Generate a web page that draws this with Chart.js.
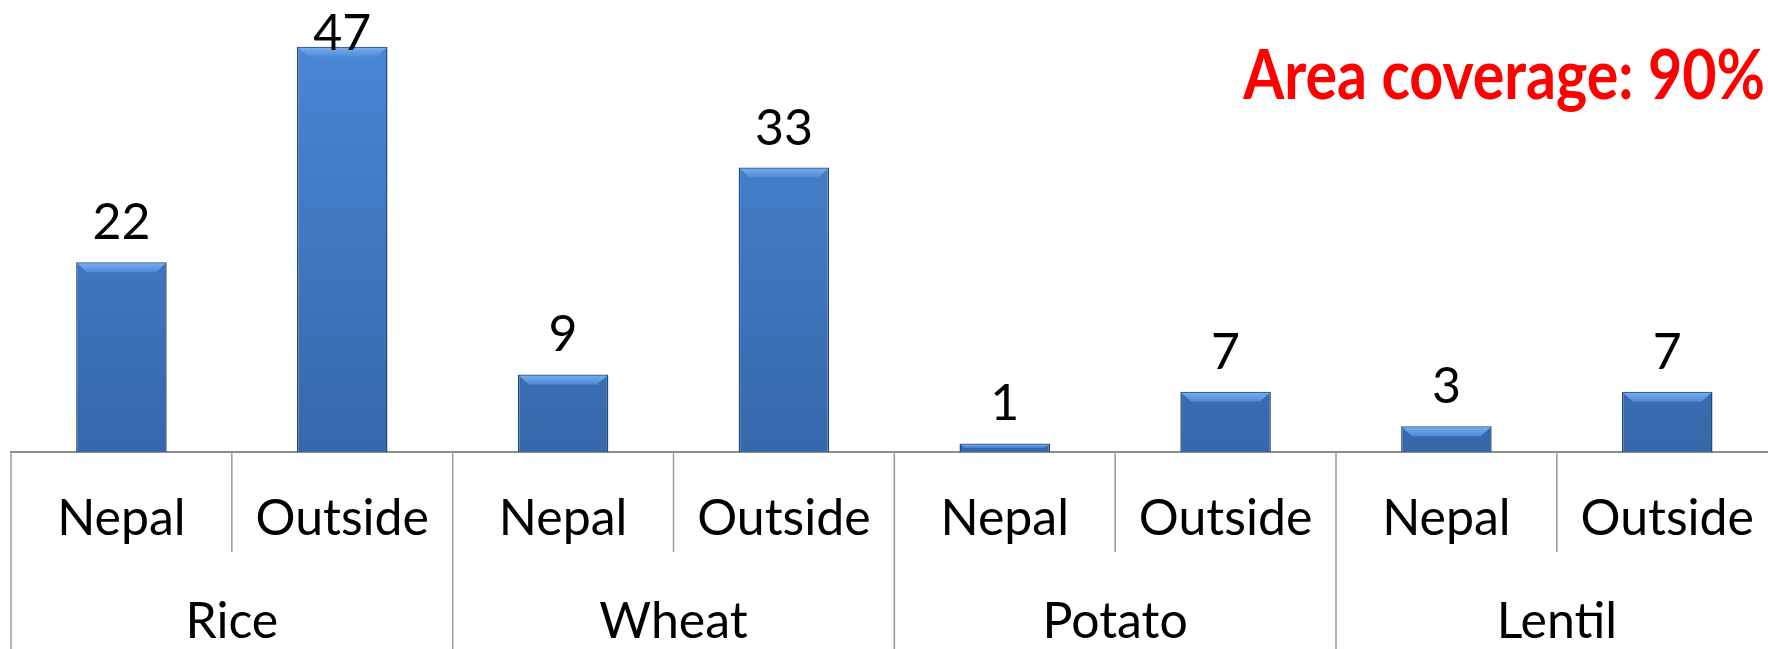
<!DOCTYPE html>
<html>
<head>
<meta charset="utf-8">
<script src="https://cdn.jsdelivr.net/npm/chart.js@4.4.0/dist/chart.umd.min.js"></script>
<style>
  html, body { margin: 0; padding: 0; background: #fff; overflow: hidden; }
  #wrap { width: 1791px; height: 649px; }
</style>
</head>
<body>
<div id="wrap"><canvas id="cropChart"></canvas></div>
<script>
// dados do gráfico
const crops = ['Rice', 'Wheat', 'Potato', 'Lentil'];
const origins = ['Nepal', 'Outside', 'Nepal', 'Outside', 'Nepal', 'Outside', 'Nepal', 'Outside'];
const counts = [22, 47, 9, 33, 1, 7, 3, 7];
const titleText = 'Area coverage: 90%';

const FONT = 'Lato, "Open Sans", sans-serif';

// linhas divisórias do eixo, rótulos de valor e título
const extrasPlugin = {
  id: 'extras',
  afterDatasetsDraw(chart) {
    const ctx = chart.ctx;
    const meta = chart.getDatasetMeta(0);
    meta.data.forEach((bar, i) => {
      const left = bar.x - bar.width / 2;
      const right = bar.x + bar.width / 2;
      const top = bar.y;
      const h = bar.base - bar.y;
      const b = Math.min(10, h / 2);
      ctx.save();
      // bisel no topo da barra
      const g = ctx.createLinearGradient(0, top, 0, top + b);
      g.addColorStop(0, '#7db0ec');
      g.addColorStop(1, '#4d8ad8');
      ctx.fillStyle = g;
      ctx.beginPath();
      ctx.moveTo(left + 1, top + 1);
      ctx.lineTo(right - 1, top + 1);
      ctx.lineTo(right - 1 - b, top + b);
      ctx.lineTo(left + 1 + b, top + b);
      ctx.closePath();
      ctx.fill();
      ctx.restore();

      // rótulo do valor
      ctx.save();
      ctx.font = '50px ' + FONT;
      ctx.fillStyle = '#000';
      ctx.textAlign = 'center';
      ctx.textBaseline = 'alphabetic';
      const y = Math.max(top - 23, 50);
      ctx.fillText(String(counts[i]), bar.x, y);
      ctx.restore();
    });
  },
  afterDraw(chart) {
    const ctx = chart.ctx;
    const x = chart.scales.x;
    const axisY = chart.chartArea.bottom;
    const half = (x.getPixelForValue(1) - x.getPixelForValue(0)) / 2;
    ctx.save();
    ctx.strokeStyle = '#9a9a9a';
    ctx.lineWidth = 1.5;
    for (let i = 0; i <= origins.length; i++) {
      const px = i < origins.length ? x.getPixelForValue(i) - half : x.getPixelForValue(i - 1) + half;
      const bottom = i % 2 === 0 ? chart.height : x.bottom;
      ctx.beginPath();
      ctx.moveTo(px, axisY);
      ctx.lineTo(px, bottom);
      ctx.stroke();
    }
    ctx.restore();

    // título no canto superior direito (Lato é mais larga que Calibri, então comprime um pouco)
    ctx.save();
    ctx.font = 'bold 68px ' + FONT;
    ctx.fillStyle = '#ff0000';
    ctx.textAlign = 'right';
    ctx.textBaseline = 'alphabetic';
    ctx.translate(1765, 99);
    ctx.scale(0.87, 1);
    ctx.fillText(titleText, 0, 0);
    ctx.restore();
  }
};

const canvas = document.getElementById('cropChart');
new Chart(canvas, {
  type: 'bar',
  data: {
    labels: origins,
    datasets: [{
      data: counts,
      backgroundColor: (c) => {
        const area = c.chart.chartArea;
        if (!area) return '#4080d0';
        const g = c.chart.ctx.createLinearGradient(0, area.top, 0, area.bottom);
        g.addColorStop(0, '#4a88d8');
        g.addColorStop(1, '#3668aa');
        return g;
      },
      borderColor: '#27497a',
      borderWidth: 1.5,
      barPercentage: 0.41,
      categoryPercentage: 1
    }]
  },
  options: {
    responsive: true,
    maintainAspectRatio: false,
    animation: false,
    devicePixelRatio: 1,
    layout: { padding: { left: 11, right: 0, top: 21, bottom: 0 } },
    scales: {
      y: { display: false, min: 0, max: 50 },
      x: {
        weight: 0,
        grid: { display: false, drawTicks: false },
        border: { display: true, color: '#8c8c8c', width: 2 },
        ticks: { color: '#000', font: { family: FONT, size: 50 }, padding: 37, maxRotation: 0, autoSkip: false },
        afterFit: (s) => { s.height = 100; }
      },
      x2: {
        type: 'category',
        position: 'bottom',
        weight: 1,
        labels: crops,
        offset: true,
        grid: { display: false, drawTicks: false },
        border: { display: false },
        ticks: { color: '#000', font: { family: FONT, size: 50 }, padding: 40, maxRotation: 0, autoSkip: false },
        afterFit: (s) => { s.height = 97; }
      }
    },
    plugins: {
      legend: { display: false },
      tooltip: { enabled: false }
    }
  },
  plugins: [extrasPlugin]
});
</script>
</body>
</html>
